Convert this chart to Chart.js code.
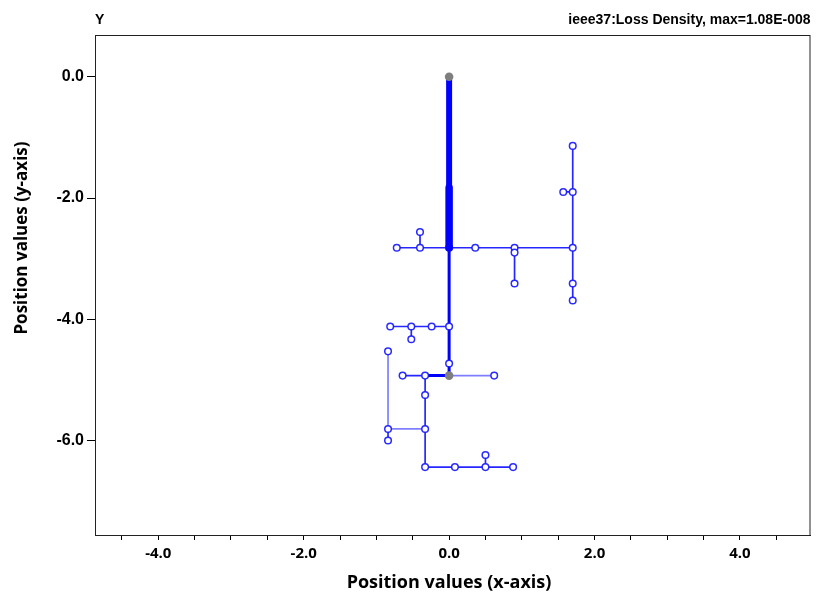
<!DOCTYPE html>
<html><head><meta charset="utf-8">
<script src="https://cdn.jsdelivr.net/npm/chart.js@4.4.0/dist/chart.umd.min.js"></script>
<style>html,body{margin:0;padding:0;background:#fff}#wrap{width:816px;height:597px}</style>
</head><body><div id="wrap"><canvas id="c" width="816" height="597"></canvas></div>
<script>
// ---- text ----
const chartTitle = 'ieee37:Loss Density, max=1.08E-008';
const cornerLabel = 'Y';
const xAxisTitle = 'Position values (x-axis)';
const yAxisTitle = 'Position values (y-axis)';

// ---- ticks ----
const xTickValues = [-4.5,-4,-3.5,-3,-2.5,-2,-1.5,-1,-0.5,0,0.5,1,1.5,2,2.5,3,3.5,4,4.5];
const xLabeledTicks = [-4,-2,0,2,4];
const yTickValues = [0,-2,-4,-6];

// ---- network: trunk segments (heavy) [x1,y1,x2,y2] ----
const trunkUpper = [[0,0,0,-1.83]];
const trunkMiddle = [[0,-1.83,0,-2.82]];
const trunkLower = [[0,-2.82,0,-4.93],[-0.33,-4.93,0,-4.93]];

// ---- network: branch segments (thin) ----
const branchEdges = [
  [-0.72,-2.82,-0.40,-2.82],[-0.40,-2.82,0,-2.82],[-0.40,-2.82,-0.40,-2.56],
  [0,-2.82,0.36,-2.82],[0.36,-2.82,0.90,-2.82],[0.90,-2.82,1.70,-2.82],
  [0.90,-2.82,0.90,-2.90],[0.90,-2.90,0.90,-3.41],
  [1.70,-2.82,1.70,-1.90],[1.70,-1.90,1.70,-1.14],[1.70,-1.90,1.57,-1.90],
  [1.70,-2.82,1.70,-3.41],[1.70,-3.41,1.70,-3.69],
  [-0.81,-4.12,-0.52,-4.12],[-0.52,-4.12,-0.24,-4.12],[-0.24,-4.12,0,-4.12],[-0.52,-4.12,-0.52,-4.33],
  [-0.64,-4.93,-0.33,-4.93],
  [-0.33,-4.93,-0.33,-5.25],[-0.33,-5.25,-0.33,-5.81],[-0.33,-5.81,-0.33,-6.44],
  [-0.84,-5.81,-0.84,-6.00],
  [-0.33,-6.44,0.08,-6.44],[0.08,-6.44,0.50,-6.44],[0.50,-6.44,0.88,-6.44],[0.50,-6.44,0.50,-6.24]
];
const lightEdges = [
  [0,-4.93,0.62,-4.93],[-0.33,-5.81,-0.84,-5.81],[-0.84,-5.81,-0.84,-4.53]
];

// ---- nodes ----
const openNodes = [
  [-0.72,-2.82],[-0.40,-2.82],[-0.40,-2.56],[0,-2.82],[0.36,-2.82],[0.90,-2.82],[0.90,-2.90],[0.90,-3.41],
  [1.70,-2.82],[1.70,-1.90],[1.57,-1.90],[1.70,-1.14],[1.70,-3.41],[1.70,-3.69],
  [-0.81,-4.12],[-0.52,-4.12],[-0.24,-4.12],[0,-4.12],[-0.52,-4.33],[0,-4.73],
  [-0.64,-4.93],[-0.33,-4.93],[0.62,-4.93],[-0.33,-5.25],[-0.33,-5.81],[-0.84,-5.81],[-0.84,-4.53],[-0.84,-6.00],
  [-0.33,-6.44],[0.08,-6.44],[0.50,-6.44],[0.50,-6.24],[0.88,-6.44]
];
const sourceNodes = [[0,0],[0,-4.93]];

const BLUE = 'rgba(0,0,255,0.85)';
const LIGHT = 'rgba(40,40,255,0.6)';

function edgeSets(list, width, color, order, cap){
  return list.map(e => ({
    type:'line', data:[{x:e[0],y:e[1]},{x:e[2],y:e[3]}],
    borderColor:color, borderWidth:width, pointRadius:0, showLine:true,
    fill:false, tension:0, order:order, borderCapStyle:cap || 'butt'
  }));
}

const datasets = [
  {type:'scatter', data:sourceNodes.map(p=>({x:p[0],y:p[1]})), pointRadius:4.3,
   pointBackgroundColor:'#7f7f7f', pointBorderColor:'#7f7f7f', pointBorderWidth:0, order:0},
  ...edgeSets(trunkMiddle, 7.5, '#0000ff', 0.5, 'round'),
  ...edgeSets(trunkUpper, 6, '#0000ff', 0.5),
  {type:'scatter', data:openNodes.map(p=>({x:p[0],y:p[1]})), pointRadius:3.3,
   pointBackgroundColor:'#ffffff', pointBorderColor:'rgba(20,20,255,0.9)', pointBorderWidth:1.5, order:1},
  ...edgeSets(branchEdges, 1.7, BLUE, 3),
  ...edgeSets(lightEdges, 1.7, LIGHT, 3),
  ...edgeSets(trunkLower, 3, '#0000ff', 2)
];

const decor = {
  id:'decor',
  afterDraw(chart){
    const {ctx, chartArea:a} = chart;
    ctx.save();
    ctx.strokeStyle = '#222'; ctx.lineWidth = 1;
    ctx.strokeRect(a.left+0.5, a.top+0.5, a.right-a.left-1, a.bottom-a.top);
    ctx.fillStyle = '#000';
    ctx.font = 'bold 14px "Liberation Sans", Arial, sans-serif';
    ctx.textBaseline = 'middle';
    ctx.textAlign = 'left';
    ctx.fillText(cornerLabel, a.left, 20);
    ctx.textAlign = 'right';
    ctx.fillText(chartTitle, a.right, 20);
    ctx.font = 'bold 18px "Open Sans", sans-serif';
    ctx.textAlign = 'center';
    ctx.fillText(xAxisTitle, 449, 583);
    ctx.font = 'bold 17px "Open Sans", sans-serif';
    ctx.translate(22, 238);
    ctx.rotate(-Math.PI/2);
    ctx.fillText(yAxisTitle, 0, 0);
    ctx.restore();
  }
};

new Chart(document.getElementById('c'), {
  type:'scatter',
  data:{datasets},
  options:{
    responsive:false, animation:false, devicePixelRatio:1,
    layout:{padding:{top:35, right:0, left:0, bottom:0}},
    plugins:{legend:{display:false}, tooltip:{enabled:false}, title:{display:false}},
    scales:{
      x:{
        type:'linear', min:-4.87, max:4.97,
        afterBuildTicks:s=>{ s.ticks = xTickValues.map(v=>({value:v})); },
        afterFit:s=>{ s.height = 62; s.paddingRight = 0; },
        ticks:{ autoSkip:false, maxRotation:0, padding:5, color:'#000',
          font:{family:'"Open Sans", sans-serif', size:15, weight:'bold'},
          callback:v=> xLabeledTicks.includes(v) ? v.toFixed(1) : '' },
        grid:{ drawOnChartArea:false, drawTicks:true, tickLength:5, tickColor:'#000', tickWidth:1 },
        border:{ color:'#222', width:1 }
      },
      y:{
        type:'linear', min:-7.56, max:0.69,
        afterBuildTicks:s=>{ s.ticks = yTickValues.map(v=>({value:v})); },
        afterFit:s=>{ s.width = 95; },
        ticks:{ autoSkip:false, padding:3, color:'#000',
          font:{family:'"Liberation Sans", Arial, sans-serif', size:16, weight:'bold'},
          callback:v=> v.toFixed(1) },
        grid:{ drawOnChartArea:false, drawTicks:true, tickLength:8, tickColor:'#000', tickWidth:1 },
        border:{ color:'#222', width:1 }
      }
    }
  },
  plugins:[decor]
});
</script></body></html>
